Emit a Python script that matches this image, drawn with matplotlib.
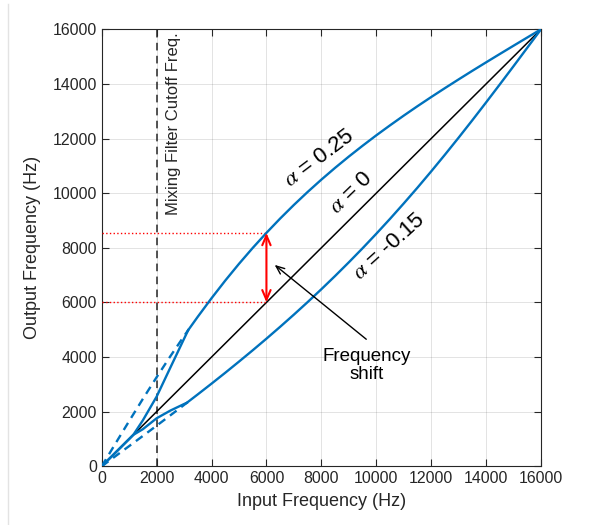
import matplotlib.pyplot as plt
from matplotlib.lines import Line2D

plt.rcParams['font.family'] = ['Liberation Sans', 'DejaVu Sans']
plt.rcParams['mathtext.fontset'] = 'stix'

# Frecuencias de entrada (Hz)
f_in = [0, 500, 1000, 1500, 2000, 2500, 3000, 3500, 4000, 4500, 5000, 5500,
        6000, 6500, 7000, 7500, 8000, 8500, 9000, 9500, 10000, 10500, 11000,
        11500, 12000, 12500, 13000, 13500, 14000, 14500, 15000, 15500, 16000]

# Curvas alfa = 0.25 y alfa = -0.15
out_pos = [0, 832, 1657, 2469, 3261, 4029, 4769, 5477, 6154, 6800, 7413, 7995,
           8547, 9072, 9570, 10044, 10496, 10927, 11340, 11735, 12117, 12483, 12839,
           13184, 13519, 13846, 14166, 14481, 14790, 15096, 15399, 15700, 16000]
out_neg = [0, 370, 740, 1112, 1487, 1865, 2247, 2634, 3026, 3425, 3833, 4248,
           4673, 5108, 5554, 6012, 6483, 6968, 7468, 7982, 8513, 9059, 9623,
           10201, 10797, 11408, 12033, 12672, 13323, 13983, 14650, 15324, 16000]

# Tramo bajo con mezcla (sólido)
low_pos_x = [0, 500, 1000, 1150, 1500, 2000, 2500, 3000, 3150]
low_pos_y = [0, 500, 1000, 1150, 1685, 2550, 3613, 4670, 4985]
low_neg_x = [0, 500, 1000, 1150, 1500, 2000, 2500, 3000, 3100]
low_neg_y = [0, 500, 1000, 1150, 1360, 1758, 2040, 2280, 2325]

diag = [0, 16000]
cutoff = 2000
shift_x = 6000
shift_lo, shift_hi = 6000, 8547
ticks = [0, 2000, 4000, 6000, 8000, 10000, 12000, 14000, 16000]

blue = '#0072BD'
dark = '#262626'

fig = plt.figure(figsize=(6.02, 5.25), dpi=100)
ax = fig.add_axes([101.7 / 602, 1 - 466.3 / 525, 439.3 / 602, 437 / 525])

ax.plot(diag, diag, color='k', lw=1.1, zorder=3)

# parte alta de las curvas (desde donde termina la mezcla)
i0 = 7
ax.plot([low_pos_x[-1]] + f_in[i0:], [low_pos_y[-1]] + out_pos[i0:], color=blue, lw=1.7, zorder=4)
ax.plot([low_neg_x[-1]] + f_in[i0:], [low_neg_y[-1]] + out_neg[i0:], color=blue, lw=1.7, zorder=4)
ax.plot(low_pos_x, low_pos_y, color=blue, lw=1.7, zorder=4)
ax.plot(low_neg_x, low_neg_y, color=blue, lw=1.7, zorder=4)

# curvas sin mezcla en baja frecuencia (discontinuas)
ax.plot(f_in[:i0] + [low_pos_x[-1]], out_pos[:i0] + [low_pos_y[-1]],
        color=blue, lw=1.7, ls=(0, (3.5, 2.5)), zorder=4)
ax.plot(f_in[:i0] + [low_neg_x[-1]], out_neg[:i0] + [low_neg_y[-1]],
        color=blue, lw=1.7, ls=(0, (3.5, 2.5)), zorder=4)

# frecuencia de corte del filtro de mezcla
ax.axvline(cutoff, color=dark, lw=1.1, ls=(0, (5, 3.5)), zorder=2)
ax.text(2600, 15900, 'Mixing Filter Cutoff Freq.', rotation=90, ha='center', va='top',
        fontsize=12, color=dark)

# desplazamiento de frecuencia
ax.plot([0, shift_x], [shift_hi, shift_hi], color='red', lw=1, ls=':', zorder=3)
ax.plot([0, shift_x], [shift_lo, shift_lo], color='red', lw=1, ls=':', zorder=3)
ax.annotate('', xy=(shift_x, shift_hi), xytext=(shift_x, shift_lo),
            arrowprops=dict(arrowstyle='<->,head_length=0.7,head_width=0.3',
                            color='red', lw=1.5, shrinkA=0, shrinkB=0), zorder=5)
ax.annotate('', xy=(6300, 7374), xytext=(9636, 4652),
            arrowprops=dict(arrowstyle='->,head_length=0.6,head_width=0.25',
                            color='k', lw=1, shrinkA=0, shrinkB=0), zorder=5)
ax.text(9636, 3680, 'Frequency\nshift', ha='center', va='center', fontsize=13.5,
        linespacing=1.1, color='k')

# etiquetas de alfa
ax.text(7938, 11286, r'$\alpha$ = 0.25', rotation=37, ha='center', va='center', fontsize=16)
ax.text(9091, 10000, r'$\alpha$ = 0', rotation=44, ha='center', va='center', fontsize=16)
ax.text(10484, 8044, r'$\alpha$ = -0.15', rotation=42, ha='center', va='center', fontsize=16)

ax.set_xlim(0, 16000)
ax.set_ylim(0, 16000)
ax.set_xticks(ticks)
ax.set_yticks(ticks)
ax.grid(True, color=dark, alpha=0.15, lw=0.6)
ax.tick_params(direction='in', length=5, top=True, right=True, labelsize=11.4,
               colors=dark, width=0.8)
for s in ax.spines.values():
    s.set_color(dark)
    s.set_linewidth(0.8)
ax.set_xlabel('Input Frequency (Hz)', fontsize=13, color=dark, labelpad=5)
ax.set_ylabel('Output Frequency (Hz)', fontsize=13, color=dark, labelpad=8)

# borde izquierdo de la figura
fig.add_artist(Line2D([8 / 602, 8 / 602], [0, 1 - 4 / 525], color='#e3e3e3', lw=1))

fig.savefig('out.png', dpi=100)
